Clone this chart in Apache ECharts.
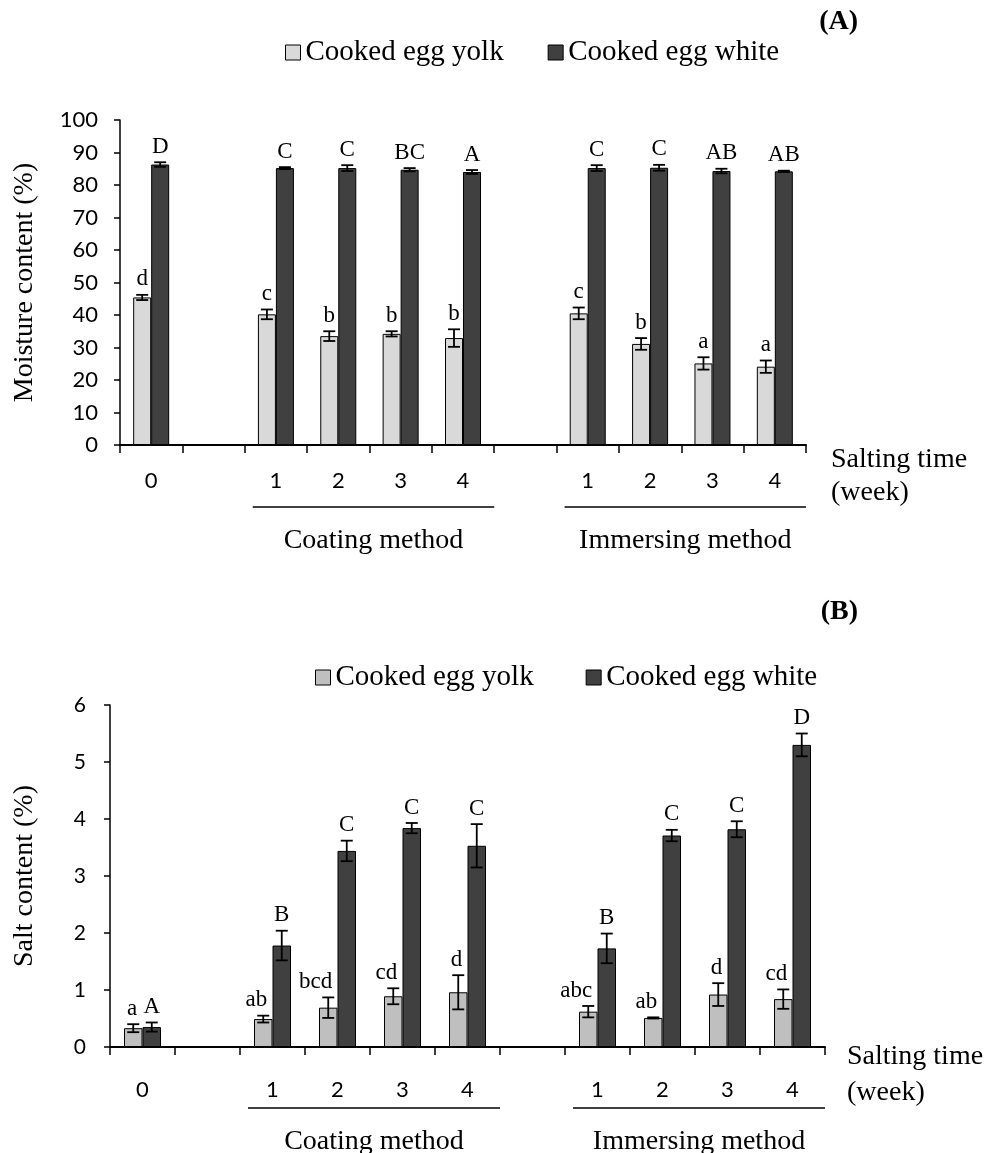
<!DOCTYPE html>
<html><head><meta charset="utf-8">
<script src="https://cdn.jsdelivr.net/npm/echarts@6/dist/echarts.min.js"></script>
<style>html,body{margin:0;padding:0;background:#fff}#c{width:989px;height:1153px}</style>
</head><body><div id="c"></div>
<script>
// ---------- data ----------
const categories = ['0', '', '1', '2', '3', '4', '', '1', '2', '3', '4'];
const seriesNames = ['Cooked egg yolk', 'Cooked egg white'];

const moistureYolk      = [45.4, null, 40.2, 33.5, 34.2, 32.9, null, 40.5, 31.1, 25.1, 24.1];
const moistureYolkErr   = [0.8,  null, 1.5,  1.5,  0.8,  2.7,  null, 1.8,  1.8,  1.9,  1.9];
const moistureYolkSig   = ['d', '', 'c', 'b', 'b', 'b', '', 'c', 'b', 'a', 'a'];
const moistureWhite     = [86.3, null, 85.2, 85.2, 84.7, 84.0, null, 85.2, 85.3, 84.3, 84.2];
const moistureWhiteErr  = [0.7,  null, 0.3,  0.9,  0.5,  0.6,  null, 0.9,  0.9,  0.7,  0.2];
const moistureWhiteSig  = ['D', '', 'C', 'C', 'BC', 'A', '', 'C', 'C', 'AB', 'AB'];

const saltYolk          = [0.33, null, 0.49, 0.69, 0.89, 0.96, null, 0.62, 0.51, 0.92, 0.84];
const saltYolkErr       = [0.07, null, 0.06, 0.18, 0.14, 0.30, null, 0.10, 0.01, 0.20, 0.17];
const saltYolkSig       = ['a', '', 'ab', 'bcd', 'cd', 'd', '', 'abc', 'ab', 'd', 'cd'];
const saltWhite         = [0.35, null, 1.78, 3.44, 3.84, 3.53, null, 1.73, 3.71, 3.82, 5.30];
const saltWhiteErr      = [0.08, null, 0.26, 0.18, 0.09, 0.38, null, 0.26, 0.10, 0.14, 0.20];
const saltWhiteSig      = ['A', '', 'B', 'C', 'C', 'C', '', 'B', 'C', 'C', 'D'];

const groups = [
  { name: 'Coating method', from: 2, to: 5 },
  { name: 'Immersing method', from: 7, to: 10 }
];

// ---------- style ----------
const SERIF = '"Liberation Serif", "Times New Roman", serif';
const SANS = 'Lato, "Noto Sans", sans-serif';
const WHITE_C = '#404040';

const chart = echarts.init(document.getElementById('c'), null, { renderer: 'canvas' });

function barSeries(g, name, data, color, bw) {
  return {
    type: 'bar', name, xAxisIndex: g, yAxisIndex: g, data,
    barWidth: bw, barGap: '0%',
    itemStyle: { color, borderColor: '#000', borderWidth: 1 },
    emphasis: { disabled: true }, z: 2
  };
}

function errSeries(g, vals, errs, sigs, side, bw, align, dx) {
  const data = [];
  vals.forEach((v, i) => { if (v != null) data.push([i, v, errs[i]]); });
  return {
    type: 'custom', xAxisIndex: g, yAxisIndex: g, data, z: 5, silent: true,
    renderItem: (params, api) => {
      const i = api.value(0), v = api.value(1), e = api.value(2);
      const c = api.coord([i, v]);
      const x = c[0] + side * bw / 2;
      const yt = api.coord([i, v + e])[1];
      const yb = api.coord([i, v - e])[1];
      const st = { stroke: '#000', lineWidth: 1.8 };
      const cap = 6;
      return {
        type: 'group',
        children: [
          { type: 'line', shape: { x1: x, y1: yt, x2: x, y2: yb }, style: st },
          { type: 'line', shape: { x1: x - cap, y1: yt, x2: x + cap, y2: yt }, style: st },
          { type: 'line', shape: { x1: x - cap, y1: yb, x2: x + cap, y2: yb }, style: st },
          { type: 'text', x: x + dx, y: yt - 4,
            style: { text: sigs[i], font: '23px ' + SERIF, fill: '#000', align, verticalAlign: 'bottom' } }
        ]
      };
    }
  };
}

function xAxis(g, margin) {
  return {
    type: 'category', gridIndex: g, data: categories,
    axisLine: { lineStyle: { color: '#000', width: 2 } },
    axisTick: { show: true, interval: 0, length: 8, inside: false, lineStyle: { color: '#000', width: 1.5 } },
    axisLabel: { interval: 0, margin, color: '#000', fontFamily: SANS, fontSize: 22 },
    splitLine: { show: false }
  };
}
function yAxis(g, min, max, interval, fs, margin) {
  return {
    type: 'value', gridIndex: g, min, max, interval,
    axisLine: { show: true, lineStyle: { color: '#000', width: 1.5 } },
    axisTick: { show: true, length: 6, lineStyle: { color: '#000', width: 1.5 } },
    axisLabel: { color: '#000', fontFamily: SANS, fontSize: fs, margin },
    splitLine: { show: false }
  };
}

const legendText = { fontFamily: SERIF, fontSize: 29, color: '#000' };

chart.setOption({
  animation: false,
  backgroundColor: '#fff',
  grid: [
    { left: 120, top: 120, width: 686, height: 325 },
    { left: 110, top: 705, width: 715, height: 342 }
  ],
  legend: [
    { left: 280, top: 33, itemWidth: 15, itemHeight: 15, itemGap: 44, icon: 'rect',
      textStyle: legendText, selectedMode: false,
      itemStyle: { borderColor: '#000', borderWidth: 1 },
      data: [{ name: seriesNames[0], itemStyle: { color: '#d9d9d9' } },
             { name: seriesNames[1], itemStyle: { color: WHITE_C } }] },
    { left: 310, top: 658, itemWidth: 15, itemHeight: 15, itemGap: 52, icon: 'rect',
      textStyle: legendText, selectedMode: false,
      itemStyle: { borderColor: '#000', borderWidth: 1 },
      data: [{ name: seriesNames[0], itemStyle: { color: '#bfbfbf' } },
             { name: seriesNames[1], itemStyle: { color: WHITE_C } }] }
  ],
  xAxis: [xAxis(0, 25), xAxis(1, 32)],
  yAxis: [yAxis(0, 0, 100, 10, 22, 22), yAxis(1, 0, 6, 1, 21, 24)],
  series: [
    barSeries(0, seriesNames[0], moistureYolk, '#d9d9d9', 18),
    barSeries(0, seriesNames[1], moistureWhite, WHITE_C, 18),
    errSeries(0, moistureYolk, moistureYolkErr, moistureYolkSig, -1, 18, 'center', 0),
    errSeries(0, moistureWhite, moistureWhiteErr, moistureWhiteSig, 1, 18, 'center', 0),
    barSeries(1, seriesNames[0], saltYolk, '#bfbfbf', 18.5),
    barSeries(1, seriesNames[1], saltWhite, WHITE_C, 18.5),
    errSeries(1, saltYolk, saltYolkErr, saltYolkSig, -1, 18.5, 'right', 4),
    errSeries(1, saltWhite, saltWhiteErr, saltWhiteSig, 1, 18.5, 'center', 0)
  ]
});

// ---------- annotations placed from the axes ----------
function px(g, cat) { return chart.convertToPixel({ xAxisIndex: g }, cat); }
function py(g, val) { return chart.convertToPixel({ yAxisIndex: g }, val); }

const panels = [
  { g: 0, yTitle: 'Moisture content (%)', tag: '(A)', tagY: 22, ymax: 100, lineDy: 62, labDy: 96, stDy: 15, wkDy: 48, stDx: 25 },
  { g: 1, yTitle: 'Salt content (%)', tag: '(B)', tagY: 612, ymax: 6, lineDy: 61, labDy: 95, stDy: 10, wkDy: 46, stDx: 22 }
];
const graphics = [];
panels.forEach(p => {
  const w = px(p.g, 1) - px(p.g, 0);
  const y0 = py(p.g, 0), yTop = py(p.g, p.ymax);
  const xEnd = px(p.g, categories.length - 1) + w / 2;
  groups.forEach(gr => {
    const xl = px(p.g, gr.from) - w / 2 + 8;
    const xr = px(p.g, gr.to) + w / 2;
    graphics.push({ type: 'line', shape: { x1: xl, y1: y0 + p.lineDy, x2: xr, y2: y0 + p.lineDy },
      style: { stroke: '#000', lineWidth: 1.5 } });
    graphics.push({ type: 'text', x: (xl + xr) / 2, y: y0 + p.labDy,
      style: { text: gr.name, font: '28px ' + SERIF, fill: '#000', align: 'center', verticalAlign: 'middle' } });
  });
  graphics.push({ type: 'text', x: xEnd + p.stDx, y: y0 + p.stDy,
    style: { text: 'Salting time', font: '28px ' + SERIF, fill: '#000', align: 'left', verticalAlign: 'middle' } });
  graphics.push({ type: 'text', x: xEnd + p.stDx, y: y0 + p.wkDy,
    style: { text: '(week)', font: '28px ' + SERIF, fill: '#000', align: 'left', verticalAlign: 'middle' } });
  graphics.push({ type: 'text', x: 25, y: (y0 + yTop) / 2, rotation: Math.PI / 2,
    style: { text: p.yTitle, font: '28px ' + SERIF, fill: '#000', align: 'center', verticalAlign: 'middle' } });
  graphics.push({ type: 'text', x: 858, y: p.tagY,
    style: { text: p.tag, font: 'bold 28px ' + SERIF, fill: '#000', align: 'right', verticalAlign: 'middle' } });
});
chart.setOption({ graphic: graphics });
</script>
</body></html>
